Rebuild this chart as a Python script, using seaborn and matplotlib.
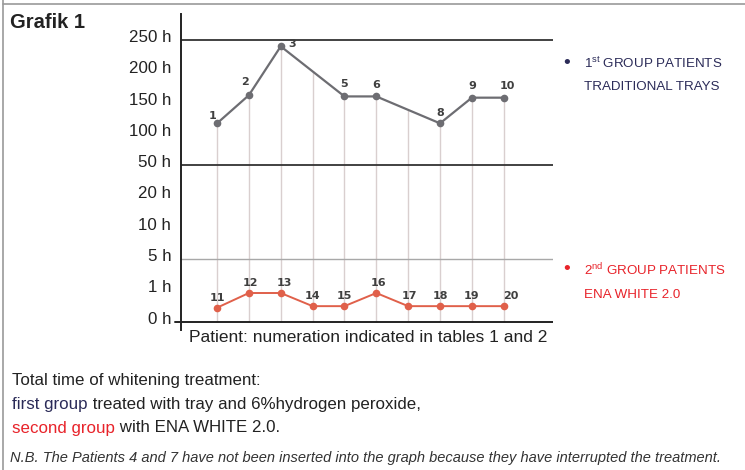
import numpy as np
import pandas as pd
import matplotlib.pyplot as plt
import seaborn as sns
from matplotlib.lines import Line2D
from matplotlib.transforms import ScaledTranslation

# y axis is not linear: every label gets the same spacing
tick_hours = [0, 1, 5, 10, 20, 50, 100, 150, 200, 250]
tick_labels = ['0 h', '1 h', '5 h', '10 h', '20 h', '50 h', '100 h', '150 h', '200 h', '250 h']

# group 1: traditional trays (patients 4 and 7 dropped out)
g1_patients = [1, 2, 3, 5, 6, 8, 9, 10]
g1_hours = [117, 162, 240, 160, 160, 117, 158, 158]

# group 2: ENA WHITE 2.0
g2_patients = [11, 12, 13, 14, 15, 16, 17, 18, 19, 20]
g2_hours = [0.45, 0.92, 0.92, 0.5, 0.5, 0.92, 0.5, 0.5, 0.5, 0.5]

def to_pos(h):
    # map hours onto the evenly spaced label scale
    return np.interp(h, tick_hours, np.arange(len(tick_hours)))

g1 = pd.DataFrame({'slot': g1_patients, 'pos': to_pos(g1_hours), 'patient': g1_patients})
g2 = pd.DataFrame({'slot': np.array(g2_patients) - 10, 'pos': to_pos(g2_hours), 'patient': g2_patients})

sns.set_style('white')
plt.rcParams['font.family'] = ['Liberation Sans', 'DejaVu Sans']
plt.rcParams['mathtext.fontset'] = 'custom'
plt.rcParams['mathtext.rm'] = 'Liberation Sans'

navy = '#2b2b58'
red = '#e8232a'
grey_line = '#6d6d72'
salmon = '#e0604a'

fig = plt.figure(figsize=(7.45, 4.7), dpi=100)
ax = fig.add_axes([0.243, 0.298, 0.499, 0.672])

# light vertical guides from the group-1 curve down to zero
slots = np.arange(1, 11)
tops = np.interp(slots, g1['slot'], g1['pos'])
ax.vlines(slots, 0, tops, color='#d9cfcf', lw=1, zorder=1)

# horizontal reference lines
ax.axhline(to_pos(250), color='#333333', lw=1.3, zorder=2)
ax.axhline(to_pos(50), color='#333333', lw=1.3, zorder=2)
ax.axhline(to_pos(5), color='#a8a8a8', lw=1.0, zorder=2)
ax.axhline(0, color='#222222', lw=1.4, zorder=2)
ax.plot([-0.015, 0], [0, 0], color='#222222', lw=1.4,
        transform=ax.get_yaxis_transform(), clip_on=False)

sns.lineplot(data=g1, x='slot', y='pos', ax=ax, color=grey_line, lw=1.6,
             marker='o', markersize=5.5, markeredgewidth=0, zorder=3)
sns.lineplot(data=g2, x='slot', y='pos', ax=ax, color=salmon, lw=1.4,
             marker='o', markersize=5.5, markeredgewidth=0, zorder=3)

# point labels, offsets in pixels
g1_off = {1: (-4, 7), 2: (-4, 13), 3: (11, 2), 5: (0, 12), 6: (0, 11),
          8: (0, 10), 9: (0, 12), 10: (4, 12)}
g2_off = {11: (0, 10), 12: (2, 10), 13: (4, 10), 14: (0, 10), 15: (0, 10),
          16: (2, 10), 17: (1, 10), 18: (0, 10), 19: (0, 10), 20: (7, 10)}
for df, offs in ((g1, g1_off), (g2, g2_off)):
    for _, r in df.iterrows():
        ax.annotate(str(int(r['patient'])), (r['slot'], r['pos']),
                    xytext=offs[int(r['patient'])], textcoords='offset pixels',
                    ha='center', va='center', fontsize=8, fontweight='bold',
                    color='#3f3f3f', family='DejaVu Sans')

ax.set_xlim(1 - 1.13, 11.54)
ax.set_ylim(-0.26, 9.83)
ax.set_yticks(range(len(tick_labels)))
ax.set_yticklabels(tick_labels, fontsize=12.2, color='#222222')
ax.set_xticks([])
ax.tick_params(axis='y', length=0, pad=7)
for lbl in ax.get_yticklabels():
    lbl.set_transform(lbl.get_transform() + ScaledTranslation(0, 3 / 72, fig.dpi_scale_trans))
for s in ['top', 'right', 'bottom']:
    ax.spines[s].set_visible(False)
ax.spines['left'].set_color('#222222')
ax.spines['left'].set_linewidth(1.4)
ax.set_xlabel('')
ax.set_ylabel('')

fig.text(368 / 745, 1 - 338 / 470, 'Patient: numeration indicated in tables 1 and 2',
         ha='center', va='center', fontsize=12.5, color='#222222')

# title and side legend
fig.text(10 / 745, 1 - 22 / 470, 'Grafik 1', fontsize=14.5, fontweight='bold',
         color='#222222', va='center')

leg_size = 9.6
fig.text(567 / 745, 1 - 63 / 470, '\u2022', fontsize=14, color=navy, ha='center', va='center')
fig.text(584 / 745, 1 - 63 / 470, '1$^{\\rm st}$ GROUP PATIENTS', fontsize=leg_size, color=navy, va='center')
fig.text(584 / 745, 1 - 87 / 470, 'TRADITIONAL TRAYS', fontsize=leg_size, color=navy, va='center')
fig.text(567 / 745, 1 - 270 / 470, '\u2022', fontsize=14, color=red, ha='center', va='center')
fig.text(584 / 745, 1 - 270 / 470, '2$^{\\rm nd}$ GROUP PATIENTS', fontsize=leg_size, color=red, va='center')
fig.text(584 / 745, 1 - 295 / 470, 'ENA WHITE 2.0', fontsize=leg_size, color=red, va='center')

# caption below the chart, with coloured words
renderer = fig.canvas.get_renderer()
cap_size = 12.2

def two_tone(y, first, first_color, rest):
    t = fig.text(12 / 745, 1 - y / 470, first, fontsize=cap_size, color=first_color, va='center')
    bb = t.get_window_extent(renderer)
    fig.text(bb.x1 / fig.bbox.width, 1 - y / 470, ' ' + rest, fontsize=cap_size,
             color='#222222', va='center')

fig.text(12 / 745, 1 - 380 / 470, 'Total time of whitening treatment:', fontsize=cap_size,
         color='#222222', va='center')
two_tone(404, 'first group', navy, 'treated with tray and 6%hydrogen peroxide,')
two_tone(428, 'second group', red, 'with ENA WHITE 2.0.')
fig.text(10 / 745, 1 - 458 / 470,
         'N.B. The Patients 4 and 7 have not been inserted into the graph because they have interrupted the treatment.',
         fontsize=10.55, style='italic', color='#333333', va='center')

# frame edges of the original figure box
fig.add_artist(Line2D([3 / 745, 3 / 745], [0, 1], color='#9a9a9a', lw=1.2))
fig.add_artist(Line2D([3 / 745, 1], [1 - 4 / 470, 1 - 4 / 470], color='#9a9a9a', lw=1.2))

fig.savefig('out.png', dpi=100)
